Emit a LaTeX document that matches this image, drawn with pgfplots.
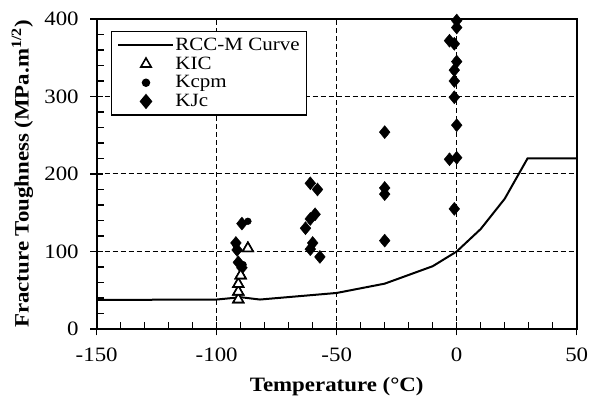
\documentclass[border=0pt]{standalone}
\usepackage{fontspec}
\setmainfont[FakeStretch=1.12]{Liberation Serif}
\usepackage{pgfplots}
\pgfplotsset{compat=1.18}
\begin{document}
\begin{tikzpicture}
\begin{axis}[
  scale only axis, width=480bp, height=310bp,
  xmin=-150, xmax=50, ymin=0, ymax=400,
  xtick={-150,-100,-50,0,50}, xticklabels={-150,-100,-50,0,50},
  ytick={0,100,200,300,400}, yticklabels={0,100,200,300,400},
  minor x tick num=4, minor y tick num=4,
  xtick pos=bottom, ytick pos=left,
  tick align=center, major tick length=13bp, minor tick length=7bp,
  minor x tick style={yshift=3.5bp}, minor y tick style={xshift=3.5bp},
  tick style={line width=1.3bp, black},
  grid=major, major grid style={dash pattern=on 5bp off 3bp, line width=1bp, black},
  axis line style={line width=2bp},
  ticklabel style={font=\fontsize{20.5}{24}\selectfont},
  xticklabel style={yshift=-9bp},
  yticklabel style={xshift=-8bp},
  label style={font=\fontsize{20.5}{24}\selectfont\bfseries},
  xlabel={Temperature (°C)},
  ylabel={Fracture Toughness (MPa.m\textsuperscript{1/2})},
  xlabel style={at={(axis description cs:0.5,-0.185)}, anchor=center},
  ylabel style={at={(axis description cs:-0.155,0.5)}, anchor=center},
  clip=false,
  legend style={at={(0,1)}, anchor=north west, xshift=14bp, yshift=-11.7bp,
    draw=black, line width=1.6bp, font=\fontsize{18.8}{20}\selectfont,
    inner xsep=6bp, inner ysep=4.5bp,
    nodes={inner sep=1bp, text height=13.5bp, text depth=3.2bp},
    row sep=0bp},
  legend cell align=left,
  legend image code/.code={\draw[mark repeat=2,mark phase=2,#1] plot coordinates {(0bp,0bp)(27.5bp,0bp)(55bp,0bp)};},
]
\addplot[black, line width=2bp, no marks] coordinates {
  (-150,37.5) (-100,38) (-90,41) (-82,38) (-50,46.5) (-30,58.5)
  (-10,81) (0,100) (10,129) (20,168) (29.5,220) (50,220)
};
\addlegendentry{RCC-M Curve}
\addplot[only marks, mark=triangle*, mark size=6bp, mark options={fill=white, draw=black, line width=1.6bp}] coordinates {
  (-91,38) (-91,48) (-91,58) (-90,69) (-87,104)
};
\addlegendentry{KIC}
\addplot[only marks, mark=*, mark size=3.4bp, black] coordinates {
  (-87,139) (-92,108) (-89,83)
};
\addlegendentry{Kcpm}
\addplot[only marks, mark=diamond*, mark size=6.5bp, black, mark options={xscale=1.1}] coordinates {
  (-89.5,136) (-92,111) (-91.5,102) (-91,86) (-89.5,79)
  (-61,188) (-58,180) (-59,148) (-61,142) (-63,130) (-60,111) (-61,103) (-57,93)
  (-30,254) (-30,182) (-30,174) (-30,114)
  (0,398) (0,389) (-3,372) (-1,368) (0,345) (-1,334) (-1,320) (-1,299)
  (0,263) (-3,219) (0,221) (-1,155)
};
\addlegendentry{KJc}
\addplot[forget plot, only marks, mark=triangle*, mark size=6bp, mark options={fill=white, draw=black, line width=1.6bp}] coordinates {
  (-91,38) (-91,48) (-91,58) (-90,69) (-87,104)
};
\end{axis}
\pgfresetboundingbox
\path[use as bounding box] ([xshift=-96.7bp,yshift=-76bp]current axis.south west) rectangle ([xshift=12.3bp,yshift=19bp]current axis.north east);
\end{tikzpicture}
\end{document}
